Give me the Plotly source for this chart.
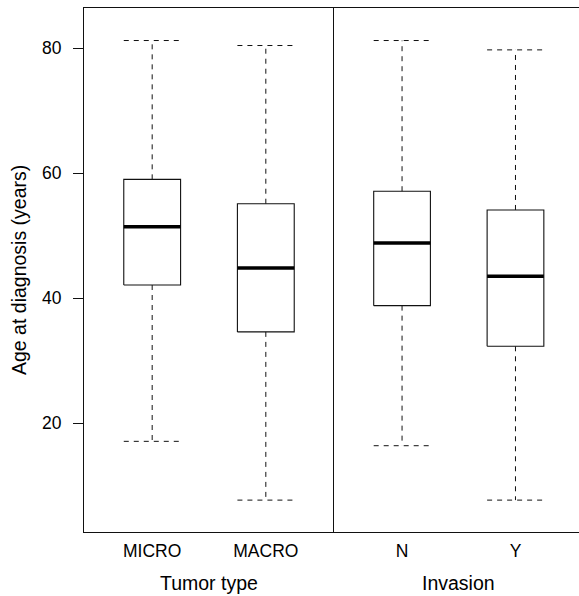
import plotly.graph_objects as go

# Five-number summaries of age at diagnosis (years)
tumor_groups = ["MICRO", "MACRO"]
invasion_groups = ["N", "Y"]

tumor_low = [17.1, 7.7]
tumor_q1 = [42.1, 34.6]
tumor_median = [51.4, 44.8]
tumor_q3 = [59.0, 55.1]
tumor_high = [81.2, 80.4]

invasion_low = [16.4, 7.7]
invasion_q1 = [38.8, 32.3]
invasion_median = [48.8, 43.5]
invasion_q3 = [57.1, 54.1]
invasion_high = [81.2, 79.7]

y_ticks = [20, 40, 60, 80]

FONT = "Liberation Sans, Arial, Helvetica, sans-serif"
INK = "#111111"
HALF = 0.25  # half box width in category units
DASH = "5px,5px"
TICK_SIZE = 17.5
TITLE_SIZE = 19.5

fig = go.Figure()


def add_boxes(labels, low, q1, med, q3, high, xa, ya):
    for i, _ in enumerate(labels):
        x0, x1 = i - HALF, i + HALF
        common = dict(mode="lines", xaxis=xa, yaxis=ya, showlegend=False, hoverinfo="skip")
        # whiskers (dashed) and caps
        fig.add_trace(go.Scatter(x=[i, i, None, i, i], y=[q3[i], high[i], None, q1[i], low[i]],
                                 line=dict(color=INK, width=1, dash=DASH), **common))
        fig.add_trace(go.Scatter(x=[x0, x1, None, x0, x1], y=[high[i], high[i], None, low[i], low[i]],
                                 line=dict(color=INK, width=1, dash=DASH), **common))
        # box
        fig.add_trace(go.Scatter(x=[x0, x1, x1, x0, x0], y=[q1[i], q1[i], q3[i], q3[i], q1[i]],
                                 line=dict(color=INK, width=1.1), **common))
        # median
        fig.add_trace(go.Scatter(x=[x0, x1], y=[med[i], med[i]],
                                 line=dict(color="black", width=3.5), **common))


add_boxes(tumor_groups, tumor_low, tumor_q1, tumor_median, tumor_q3, tumor_high, "x", "y")
add_boxes(invasion_groups, invasion_low, invasion_q1, invasion_median, invasion_q3, invasion_high, "x2", "y2")

split = 250 / 495
y_range = [2.6, 86.4]

axis_line = dict(showline=True, linecolor=INK, linewidth=1, showgrid=False, zeroline=False)
tick_font = dict(family=FONT, size=TICK_SIZE, color="black")

fig.update_layout(
    width=579, height=596,
    margin=dict(l=84, r=0, t=8, b=64),
    paper_bgcolor="white", plot_bgcolor="white",
    font=dict(family=FONT, size=TICK_SIZE, color="black"),
    xaxis=dict(domain=[0, split], range=[-0.6, 1.6], tickvals=[0, 1], ticktext=tumor_groups,
               ticks="", mirror=True, anchor="y", tickfont=tick_font, ticklabelstandoff=3,
               **axis_line),
    xaxis2=dict(domain=[split, 1], range=[-0.6, 1.56], tickvals=[0, 1], ticktext=invasion_groups,
                ticks="", mirror=True, anchor="y2", tickfont=tick_font, ticklabelstandoff=3,
                **axis_line),
    yaxis=dict(range=y_range, tickvals=y_ticks, ticks="outside", ticklen=10, tickcolor=INK,
               tickwidth=1, ticklabelstandoff=8, anchor="x", tickfont=tick_font, **axis_line),
    yaxis2=dict(range=y_range, showticklabels=False, ticks="", anchor="x2", matches="y", **axis_line),
    annotations=[
        dict(text="Age at diagnosis (years)", xref="paper", yref="paper", x=0, y=0.5,
             xshift=-65, textangle=-90, showarrow=False, xanchor="center", yanchor="middle",
             font=dict(family=FONT, size=TITLE_SIZE)),
        dict(text="Tumor type", xref="x", yref="paper", x=0.5, y=0, yshift=-51,
             showarrow=False, xanchor="center", yanchor="middle",
             font=dict(family=FONT, size=TITLE_SIZE)),
        dict(text="Invasion", xref="x2", yref="paper", x=0.5, y=0, yshift=-51,
             showarrow=False, xanchor="center", yanchor="middle",
             font=dict(family=FONT, size=TITLE_SIZE)),
    ],
)

fig.write_html("out.html")
